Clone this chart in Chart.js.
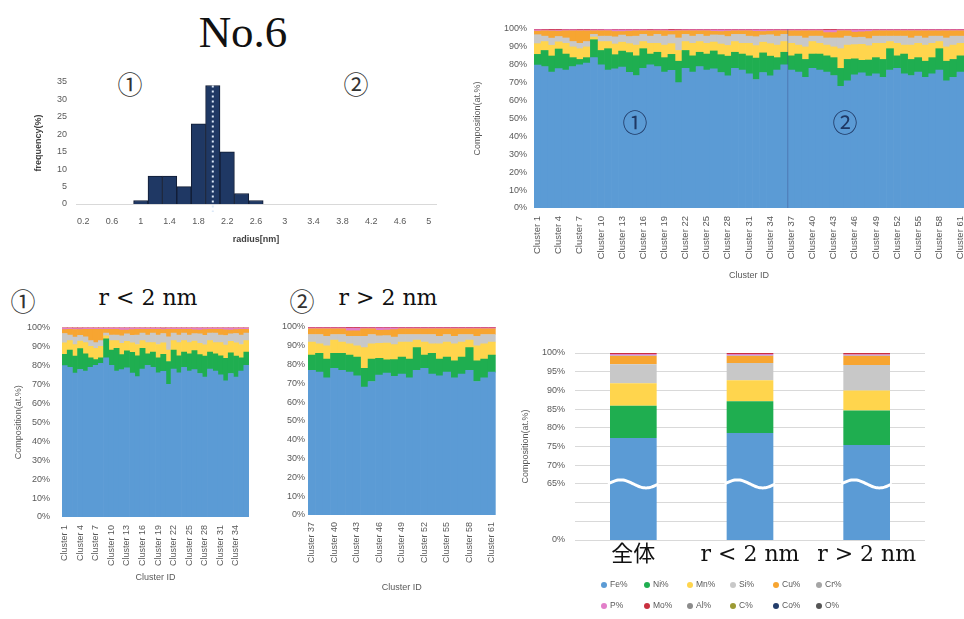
<!DOCTYPE html>
<html>
<head>
<meta charset="utf-8">
<script src="https://cdn.jsdelivr.net/npm/chart.js@4.4.1/dist/chart.umd.min.js"></script>
<style>
body { margin:0; width:964px; height:619px; overflow:hidden; background:#fff; position:relative; font-family:"Liberation Sans", sans-serif; }
canvas { position:absolute; }
.c { position:absolute; transform:translate(-50%,-50%); line-height:1; white-space:nowrap; }
.serif { font-family:"DejaVu Serif", serif; font-size:22px; color:#111; }
.circ { font-family:"Noto Sans CJK JP", sans-serif; font-size:25px; color:#333; }
#legend { position:absolute; left:601px; top:579px; display:grid; grid-template-columns:repeat(6, 43px); grid-auto-rows:21px; font-size:8.5px; color:#595959; }
#legend span.dot { display:inline-block; width:6px; height:6px; border-radius:50%; margin-right:3px; vertical-align:middle; }
</style>
</head>
<body>

<div class="c" style="left:243px; top:32px; font-family:'Liberation Serif', serif; font-size:45px; color:#111;">No.6</div>
<div class="c circ" style="left:130px; top:83px;">①</div>
<div class="c circ" style="left:356px; top:83px;">②</div>

<canvas id="histChart" width="450" height="200" style="left:0; top:60px;"></canvas>
<canvas id="allChart" width="524" height="290" style="left:460px; top:0;"></canvas>
<div class="c circ" style="left:635px; top:121px; color:#1f3864;">①</div>
<div class="c circ" style="left:845px; top:121px; color:#1f3864;">②</div>

<div class="c circ" style="left:23px; top:300px;">①</div>
<div class="c serif" style="left:148px; top:298px;">r &lt; 2 nm</div>
<div class="c circ" style="left:302px; top:300px;">②</div>
<div class="c serif" style="left:388px; top:298px;">r &gt; 2 nm</div>

<canvas id="smallChart" width="260" height="300" style="left:0; top:310px;"></canvas>
<canvas id="largeChart" width="260" height="300" style="left:250px; top:310px;"></canvas>

<canvas id="avgChart" width="454" height="250" style="left:510px; top:330px;"></canvas>
<div id="legend"></div>

<script>
/* HISTOGRAM */

const radiusLabels = ['0.2','0.4','0.6','0.8','1','1.2','1.4','1.6','1.8','2','2.2','2.4','2.6',
    '2.8','3','3.2','3.4','3.6','3.8','4','4.2','4.4','4.6','4.8','5'];
const frequency = [0,0,0,0,1,8,8,5,23,34,15,3,1,0,0,0,0,0,0,0,0,0,0,0,0];

/* CLUSTER COMPOSITION (at.%) */

const clusterNo = [1,2,3,4,5,6,7,8,9,10,11,12,13,14,15,16,17,18,19,20,
    21,22,23,24,25,26,27,28,29,30,31,32,33,34,35,36,37,38,39,40,
    41,42,43,44,45,46,47,48,49,50,51,52,53,54,55,56,57,58,59,60,61];

const feClu = [80,79,76,78,77,79,80,81,84,80,77,78,79,76,74,78,80,79,76,77,70,78,76,79,77,78,76,74,78,77,75,72,76,74,77,80,
    77,76,73,78,77,76,74,68,71,75,76,74,75,73,77,78,75,74,76,73,75,77,71,73,76];
const niClu = [6,9,9,11,9,5,3,3,10,8,12,8,9,11,11,11,6,8,8,9,12,10,9,8,9,10,10,11,9,9,10,12,11,11,7,7,
    8,10,10,8,9,9,10,10,12,9,7,9,9,10,12,7,11,9,8,9,9,12,11,10,9];
const mnClu = [6,5,6,4,6,6,6,6,1.5,5,4,6,5,5,6,4,6,5,7,6,6,5,7,6,6,5,6,6,6,6,7,7,6,7,7,6,
    7,5,7,7,6,6,6,11,8,8,9,8,8,9,4,7,5,8,8,9,8,4,8,8,7];
const siClu = [5,3,4,3,3,3,3,3,1.5,3,3,4,4,4,5,4,4,5,5,5,7,4,4,4,4,4,5,5,4,5,4,5,4,5,5,4,
    4,5,5,3,4,4,5,6,5,4,4,4,4,4,3,4,5,4,4,4,4,3,5,5,4];
const cuClu = [2,3,4,3,4,6,7,6,2,3,3,3,2,3,3,2,3,2,3,2,4,2,3,2,3,2,2,3,2,2,3,3,2,2,3,2,
    3,3,4,3,3,3,3,4,3,3,3,4,3,3,3,3,3,4,3,4,3,3,4,3,3];
const pClu = [0.8,0.5,0.5,0.6,0.6,0.6,0.5,0.5,0.6,0.6,0.7,1.0,1.0,0.8,0.6,0.6,0.5,0.6,0.6,0.6,0.5,0.6,0.6,0.6,0.6,0.9,1.0,0.8,0.6,0.6,0.6,0.9,1.0,0.8,0.6,0.6,
    0.6,0.6,0.6,0.6,0.6,1.4,1.4,0.6,0.6,1.4,1.2,1.0,0.6,0.6,0.6,0.6,0.6,0.6,0.6,0.6,0.6,0.6,0.6,0.6,0.6];
const moClu = [0.4,0.5,0.6,0.6,0.4,0.4,0.5,0.5,0.4,0.4,0.3,0.4,0.4,0.4,0.4,0.4,0.5,0.4,0.4,0.6,0.5,0.4,0.4,0.4,0.4,0.4,0.4,0.4,0.4,0.4,0.4,0.4,0.4,0.4,0.4,0.4,
    0.4,0.4,0.4,0.4,0.4,0.6,0.6,0.4,0.4,0.4,0.4,0.4,0.4,0.4,0.4,0.4,0.4,0.4,0.4,0.4,0.4,0.4,0.4,0.4,0.4];

/* AVERAGE COMPOSITION */

const groups = ['全体', 'r < 2 nm', 'r > 2 nm'];
const feAll = [77.3, 78.6, 75.4];
const niAll = [8.6, 8.5, 9.2];
const mnAll = [6.0, 5.6, 5.4];
const siAll = [5.1, 4.6, 6.8];
const cuAll = [2.2, 1.9, 2.4];
const crAll = [0.1, 0.1, 0.1];
const pAll = [0.4, 0.4, 0.3];
const moAll = [0.3, 0.3, 0.4];
const alAll = [0, 0, 0];
const cAll = [0, 0, 0];
const coAll = [0, 0, 0];
const oAll = [0, 0, 0];

/* STYLE */

const grey = '#595959';
const tickFont = {family: 'Liberation Sans', size: 9};

const cluNames = ['Fe%','Ni%','Mn%','Si%','Cu%','P%','Mo%'];
const cluSeries = [feClu, niClu, mnClu, siClu, cuClu, pClu, moClu];
const cluColors = ['#5b9bd5','#1fae50','#ffd54d','#c8c8c8','#f7a531','#e27fc9','#c9303f'];

const allNames = ['Fe%','Ni%','Mn%','Si%','Cu%','Cr%','P%','Mo%','Al%','C%','Co%','O%'];
const allSeries = [feAll, niAll, mnAll, siAll, cuAll, crAll, pAll, moAll, alAll, cAll, coAll, oAll];
const allColors = ['#5b9bd5','#1fae50','#ffd54d','#c8c8c8','#f7a531','#a5a5a5',
    '#e27fc9','#c9303f','#8c8c8c','#9c9a34','#233d6b','#555555'];

/* 100% stacked, like the spreadsheet */
function stackPct(from, to){
    return cluSeries.map(arr => arr.slice(from, to).map((v, j) => {
        let tot = 0;
        cluSeries.forEach(a => tot += a[from + j]);
        return v / tot * 100;
    }));
}

/* HISTOGRAM CHART */

const dottedLine = {
    id: 'dottedLine',
    afterDatasetsDraw(chart){
        const x = chart.scales.x.getPixelForValue(radiusLabels.indexOf('2'));
        const y = chart.scales.y;
        const ctx = chart.ctx;
        ctx.save();
        ctx.strokeStyle = '#dbe8f7';
        ctx.lineWidth = 2;
        ctx.setLineDash([2, 3]);
        ctx.beginPath();
        ctx.moveTo(x, y.getPixelForValue(34));
        ctx.lineTo(x, chart.chartArea.bottom + 8);
        ctx.stroke();
        ctx.restore();
    }
};

new Chart(document.getElementById('histChart'), {
    type: 'bar',
    data: {
        labels: radiusLabels,
        datasets: [{
            data: frequency,
            backgroundColor: '#1f3864',
            borderColor: '#111c33',
            borderWidth: 1,
            categoryPercentage: 1,
            barPercentage: 1
        }]
    },
    options: {
        responsive: false,
        animation: false,
        layout: {padding: {top: 22, right: 14, left: 0, bottom: 0}},
        plugins: {legend: {display: false}, tooltip: {enabled: false}},
        scales: {
            x: {
                grid: {display: false, drawTicks: false},
                border: {display: true, color: '#d9d9d9'},
                ticks: {autoSkip: false, maxRotation: 0, padding: 12, color: grey, font: tickFont,
                    callback: (v, i) => i % 2 === 0 ? radiusLabels[i] : null},
                title: {display: true, text: 'radius[nm]', color: '#404040',
                    font: {family: 'Liberation Sans', size: 9, weight: 'bold'}, padding: {top: 0, bottom: 15}},
                afterFit: s => { s.height = 56; }
            },
            y: {
                min: 0, max: 35,
                grid: {display: false, drawTicks: false},
                border: {display: false},
                ticks: {stepSize: 5, padding: 9, color: grey, font: tickFont},
                title: {display: true, text: 'frequency(%)', color: '#404040',
                    font: {family: 'Liberation Sans', size: 9, weight: 'bold'}, padding: {top: 33, bottom: 0}},
                afterFit: s => { s.width = 76; }
            }
        }
    },
    plugins: [dottedLine]
});

/* CLUSTER CHARTS */

const divider = {
    id: 'divider',
    afterDatasetsDraw(chart){
        const x = chart.scales.x;
        const px = (x.getPixelForValue(clusterNo.indexOf(36)) + x.getPixelForValue(clusterNo.indexOf(37))) / 2;
        const ctx = chart.ctx;
        ctx.save();
        ctx.strokeStyle = 'rgba(60,80,140,0.45)';
        ctx.lineWidth = 1;
        ctx.beginPath();
        ctx.moveTo(px, chart.chartArea.top);
        ctx.lineTo(px, chart.chartArea.bottom);
        ctx.stroke();
        ctx.restore();
    }
};

function clusterChart(id, from, to, o){
    const pct = stackPct(from, to);
    const labels = clusterNo.slice(from, to).map(n => 'Cluster ' + n);
    return new Chart(document.getElementById(id), {
        type: 'bar',
        data: {
            labels: labels,
            datasets: cluNames.map((name, k) => ({
                label: name,
                data: pct[k],
                backgroundColor: cluColors[k],
                borderWidth: 0,
                categoryPercentage: 1,
                barPercentage: 1
            }))
        },
        options: {
            responsive: false,
            animation: false,
            layout: {padding: o.pad},
            plugins: {legend: {display: false}, tooltip: {enabled: false}},
            scales: {
                x: {
                    stacked: true,
                    grid: {display: false, drawTicks: false},
                    border: {display: false},
                    ticks: {autoSkip: false, minRotation: 90, maxRotation: 90, padding: o.xTickPad,
                        color: grey, font: {family: 'Liberation Sans', size: o.xFont},
                        callback: (v, i) => i % 3 === 0 ? labels[i] : null},
                    title: {display: true, text: 'Cluster ID', color: grey, font: tickFont,
                        padding: {top: 0, bottom: o.xTitlePad}},
                    afterFit: s => { s.height = o.xH; }
                },
                y: {
                    stacked: true,
                    min: 0, max: 100,
                    grid: {display: false, drawTicks: false},
                    border: {display: false},
                    ticks: {stepSize: 10, padding: o.yTickPad, color: grey, font: tickFont,
                        callback: v => v + '%'},
                    title: {display: o.yTitle, text: 'Composition(at.%)', color: grey, font: tickFont,
                        padding: {top: o.yTitlePad, bottom: 0}},
                    afterFit: s => { s.width = o.yW; }
                }
            }
        },
        plugins: o.plugins || []
    });
}

clusterChart('allChart', 0, 61, {
    pad: {top: 29, right: 20, left: 0, bottom: 0},
    xH: 82, yW: 74, xTickPad: 8, yTickPad: 7, xFont: 9.5,
    xTitlePad: 9, yTitle: true, yTitlePad: 12, plugins: [divider]
});

clusterChart('smallChart', 0, 36, {
    pad: {top: 17, right: 11, left: 0, bottom: 0},
    xH: 93, yW: 62, xTickPad: 8, yTickPad: 12, xFont: 9,
    xTitlePad: 27, yTitle: true, yTitlePad: 13
});

clusterChart('largeChart', 36, 61, {
    pad: {top: 17, right: 13, left: 0, bottom: 0},
    xH: 95, yW: 58, xTickPad: 7, yTickPad: 3, xFont: 9,
    xTitlePad: 17, yTitle: false, yTitlePad: 0
});

/* AVERAGE CHART */

const waveBreak = {
    id: 'waveBreak',
    afterDatasetsDraw(chart){
        const y = chart.scales.y.getPixelForValue(65);
        const ctx = chart.ctx;
        ctx.save();
        ctx.strokeStyle = '#ffffff';
        ctx.lineWidth = 3;
        chart.getDatasetMeta(0).data.forEach(bar => {
            const w = bar.width + 4;
            const x0 = bar.x - w / 2;
            ctx.beginPath();
            for (let t = 0; t <= 40; t++){
                const xx = x0 + w * t / 40;
                const yy = y - 4 * Math.sin(Math.PI * 2 * t / 40);
                if (t === 0) ctx.moveTo(xx, yy); else ctx.lineTo(xx, yy);
            }
            ctx.stroke();
        });
        ctx.restore();
    }
};

const avgChart = new Chart(document.getElementById('avgChart'), {
    type: 'bar',
    data: {
        labels: groups,
        datasets: allNames.map((name, k) => ({
            label: name,
            data: allSeries[k],
            backgroundColor: allColors[k],
            borderWidth: 0,
            categoryPercentage: 0.8,
            barPercentage: 0.5
        }))
    },
    options: {
        responsive: false,
        animation: false,
        layout: {padding: {top: 23, right: 39, left: 0, bottom: 0}},
        plugins: {legend: {display: false}, tooltip: {enabled: false}},
        scales: {
            x: {
                stacked: true,
                grid: {display: false, drawTicks: false},
                border: {display: false},
                ticks: {maxRotation: 0, padding: 2, color: '#111',
                    font: {family: "'DejaVu Serif', 'Noto Sans CJK JP', serif", size: 22}},
                afterFit: s => { s.height = 40; }
            },
            y: {
                stacked: true,
                min: 50, max: 100,
                grid: {color: '#d9d9d9', drawTicks: false},
                border: {display: false},
                ticks: {stepSize: 5, padding: 10, color: grey, font: tickFont,
                    callback: v => v === 50 ? '0%' : (v < 65 ? '' : v + '%')},
                title: {display: true, text: 'Composition(at.%)', color: grey, font: tickFont,
                    padding: {top: 10, bottom: 0}},
                afterFit: s => { s.width = 65; }
            }
        }
    },
    plugins: [waveBreak]
});

/* LEGEND */

const legend = document.getElementById('legend');
avgChart.data.datasets.forEach(ds => {
    const item = document.createElement('div');
    item.innerHTML = '<span class="dot" style="background:' + ds.backgroundColor + '"></span>' + ds.label;
    legend.appendChild(item);
});
</script>
</body>
</html>
